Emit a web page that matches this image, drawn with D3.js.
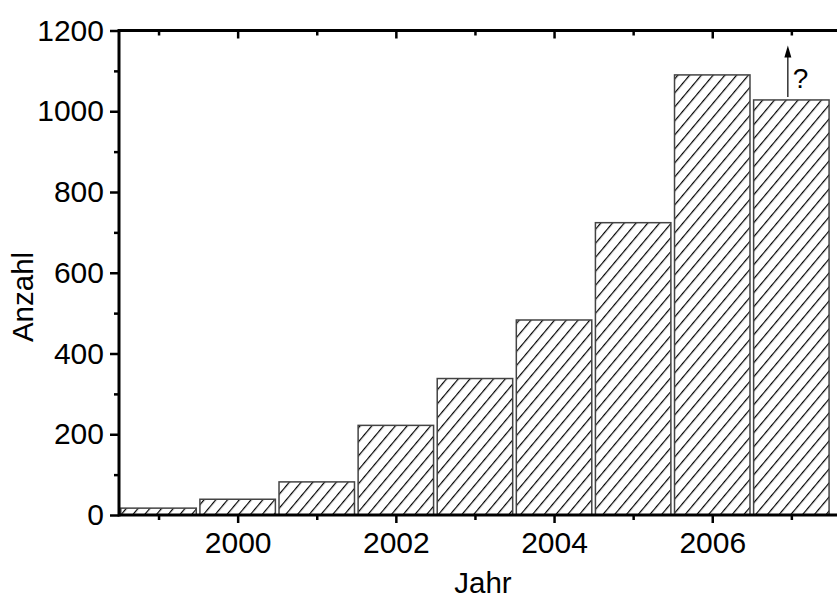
<!DOCTYPE html>
<html><head><meta charset="utf-8">
<script src="https://cdn.jsdelivr.net/npm/d3@7"></script>
<style>body{margin:0;background:#fff}svg{display:block}</style>
</head><body><svg id="c" width="837" height="597"></svg>
<script>
const years = [1999, 2000, 2001, 2002, 2003, 2004, 2005, 2006, 2007];
const counts = [17, 39, 82, 222, 338, 483, 724, 1090, 1028];
const xMajorTicks = [2000, 2002, 2004, 2006];
const xMinorTicks = [1999, 2001, 2003, 2005, 2007];
const yMajorTicks = [0, 200, 400, 600, 800, 1000, 1200];
const yMinorTicks = [100, 300, 500, 700, 900, 1100];
const xLabel = "Jahr", yLabel = "Anzahl", noteText = "?";

const svg = d3.select("#c");
const font = "'Liberation Sans', Arial, sans-serif";
const x = d3.scaleLinear().domain([1998.5, 2008]).range([119, 119 + 9.5 * 79.1]);
const y = d3.scaleLinear().domain([0, 1200]).range([515, 30.5]);

const defs = svg.append("defs");
const pat = defs.append("pattern").attr("id", "hatch").attr("patternUnits", "userSpaceOnUse")
  .attr("width", 9).attr("height", 20).attr("patternTransform", "rotate(40)");
pat.append("line").attr("x1", 0.6).attr("y1", 0).attr("x2", 0.6).attr("y2", 20)
  .attr("stroke", "#000").attr("stroke-width", 1.2);

const halfW = 0.477;
svg.append("g").selectAll("rect").data(years).join("rect")
  .attr("x", d => x(d - halfW))
  .attr("y", (d, i) => y(counts[i]))
  .attr("width", d => x(d + halfW) - x(d - halfW))
  .attr("height", (d, i) => y(0) - y(counts[i]))
  .attr("fill", "url(#hatch)")
  .attr("stroke", "#444").attr("stroke-width", 1.5);

// axes
const gx = svg.append("g").attr("transform", `translate(0,${y(0)})`);
gx.call(d3.axisBottom(x).tickValues(xMajorTicks).tickFormat(d3.format("d")).tickSize(8).tickPadding(9));
const gxm = svg.append("g").attr("transform", `translate(0,${y(0)})`);
gxm.call(d3.axisBottom(x).tickValues(xMinorTicks).tickFormat("").tickSize(5));
const gt = svg.append("g").attr("transform", `translate(0,${y(1200)})`);
gt.call(d3.axisBottom(x).tickValues(xMajorTicks).tickFormat("").tickSize(8));
const gtm = svg.append("g").attr("transform", `translate(0,${y(1200)})`);
gtm.call(d3.axisBottom(x).tickValues(xMinorTicks).tickFormat("").tickSize(5));

const gy = svg.append("g").attr("transform", `translate(${x(1998.5)},0)`);
gy.call(d3.axisLeft(y).tickValues(yMajorTicks).tickFormat(d3.format("d")).tickSize(9).tickPadding(6));
const gym = svg.append("g").attr("transform", `translate(${x(1998.5)},0)`);
gym.call(d3.axisLeft(y).tickValues(yMinorTicks).tickFormat("").tickSize(5));

svg.selectAll(".domain").remove();
svg.selectAll(".tick line").attr("stroke", "#000").attr("stroke-width", 2.5);
svg.selectAll(".tick text").attr("font-family", font).attr("font-size", 30).attr("fill", "#000");

// axis lines
svg.append("line").attr("x1", x(1998.5)).attr("x2", 837).attr("y1", y(0)).attr("y2", y(0))
  .attr("stroke", "#000").attr("stroke-width", 3);
svg.append("line").attr("x1", x(1998.5)).attr("x2", 837).attr("y1", y(1200)).attr("y2", y(1200))
  .attr("stroke", "#000").attr("stroke-width", 3);
svg.append("line").attr("x1", x(1998.5)).attr("x2", x(1998.5)).attr("y1", y(1200) - 1.5).attr("y2", y(0) + 1.5)
  .attr("stroke", "#000").attr("stroke-width", 3);

// labels
svg.append("text").attr("x", 483).attr("y", 593).attr("text-anchor", "middle")
  .attr("font-family", font).attr("font-size", 29.5).text(xLabel);
svg.append("text").attr("transform", `translate(33,297) rotate(-90)`).attr("text-anchor", "middle")
  .attr("font-family", font).attr("font-size", 29.5).text(yLabel);

// arrow annotation on last bar
const ax = x(2007) - 3.5;
const yTop = y(counts[counts.length - 1]);
svg.append("line").attr("x1", ax).attr("x2", ax).attr("y1", yTop - 3).attr("y2", y(1200) + 24)
  .attr("stroke", "#000").attr("stroke-width", 1.2);
svg.append("path").attr("d", `M${ax},${y(1200) + 15} L${ax - 3.5},${y(1200) + 27} L${ax + 3.5},${y(1200) + 27} Z`)
  .attr("fill", "#000");
svg.append("text").attr("x", ax + 5).attr("y", yTop - 12).attr("font-family", font)
  .attr("font-size", 28).text(noteText);
</script></body></html>
